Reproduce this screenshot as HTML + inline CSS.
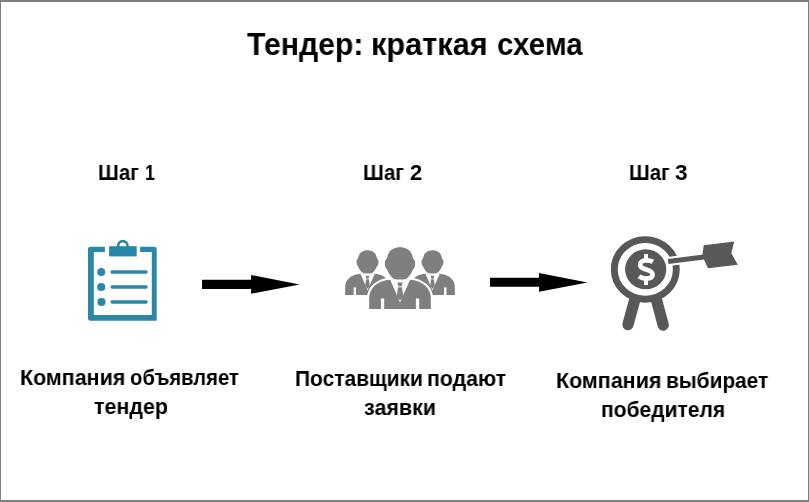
<!DOCTYPE html>
<html><head><meta charset="utf-8"><style>
html,body{margin:0;padding:0;}
body{width:809px;height:502px;overflow:hidden;background:#fff;position:relative;}
.frame{position:absolute;left:0;top:0;width:809px;height:502px;box-sizing:border-box;border-style:solid;border-color:#7f7f7f;border-width:2px 1px 2px 1px;}
.t{position:absolute;white-space:nowrap;font-family:"Liberation Sans",sans-serif;font-weight:bold;color:#000;transform-origin:0 0;will-change:transform;}
</style></head><body>
<svg width="809" height="502" viewBox="0 0 809 502" style="position:absolute;left:0;top:0">
<!-- clipboard -->
<g fill="#2a87a8">
<path fill-rule="evenodd" d="M90.5,246.8 H154.2 Q156.7,246.8 156.7,249.3 V320.8 H90.5 Q88,320.8 88,318.3 V249.3 Q88,246.8 90.5,246.8 Z M93.8,252 V315 H151.8 V252 Z"/>
<rect x="104.9" y="245" width="35.2" height="7.5" fill="#fff"/>
<rect x="109.1" y="246.2" width="27.6" height="10.2"/>
<path d="M118.15,247 V245.8 A4.7,4.7 0 0 1 127.55,245.8 V247" fill="none" stroke="#2a87a8" stroke-width="2.6"/>
<circle cx="101.2" cy="272" r="4"/>
<circle cx="101.2" cy="287" r="4.1"/>
<circle cx="101.5" cy="302" r="4.1"/>
<g stroke="#2a87a8" stroke-width="3.6" stroke-linecap="round">
<line x1="112.2" y1="272" x2="146" y2="272"/>
<line x1="112.2" y1="287" x2="146" y2="287"/>
<line x1="112.2" y1="302" x2="146" y2="302"/>
</g>
</g>
<!-- people -->

<g fill="#7f7f7f">
<g transform="translate(367.5,250.2) scale(0.725)">
<path d="M0,0 C4,0 8.5,1.5 10.8,5 C12,7 12.6,9.5 13.2,11.5 C14.8,12.5 15.2,14.5 15.1,17 C15,19.5 14.2,21.2 13,22 C11.5,26 9,30 6,31.5 C4,32.7 2,33 0,33 C-2,33 -4,32.7 -6,31.5 C-9,30 -11.5,26 -13,22 C-14.2,21.2 -15,19.5 -15.1,17 C-15.2,14.5 -14.8,12.5 -13.2,11.5 C-12.6,9.5 -12,7 -10.8,5 C-8.5,1.5 -4,0 0,0 Z"/>
<path d="M-30.8,61.7 L-30.8,50.5 C-30.8,41 -22,33.2 -9.9,32.6 L9.9,32.6 C22,33.2 30.8,41 30.8,50.5 L30.8,61.7 Z"/>
<path d="M-9.9,32.2 L0,55.2 L10.2,32.2 Z" fill="#fff"/>
<path d="M-2.6,35.3 L2.6,35.3 L1.7,39 L-1.7,39 Z M-2,40 L2,40 L3.2,49.5 L0,53.2 L-3.2,49.5 Z"/>
<rect x="-19.1" y="51.3" width="3.3" height="11" fill="#fff"/>
<rect x="15.9" y="51.3" width="3.3" height="11" fill="#fff"/>
</g>
<g transform="translate(432.5,250.2) scale(0.725)">
<path d="M0,0 C4,0 8.5,1.5 10.8,5 C12,7 12.6,9.5 13.2,11.5 C14.8,12.5 15.2,14.5 15.1,17 C15,19.5 14.2,21.2 13,22 C11.5,26 9,30 6,31.5 C4,32.7 2,33 0,33 C-2,33 -4,32.7 -6,31.5 C-9,30 -11.5,26 -13,22 C-14.2,21.2 -15,19.5 -15.1,17 C-15.2,14.5 -14.8,12.5 -13.2,11.5 C-12.6,9.5 -12,7 -10.8,5 C-8.5,1.5 -4,0 0,0 Z"/>
<path d="M-30.8,61.7 L-30.8,50.5 C-30.8,41 -22,33.2 -9.9,32.6 L9.9,32.6 C22,33.2 30.8,41 30.8,50.5 L30.8,61.7 Z"/>
<path d="M-9.9,32.2 L0,55.2 L10.2,32.2 Z" fill="#fff"/>
<path d="M-2.6,35.3 L2.6,35.3 L1.7,39 L-1.7,39 Z M-2,40 L2,40 L3.2,49.5 L0,53.2 L-3.2,49.5 Z"/>
<rect x="-19.1" y="51.3" width="3.3" height="11" fill="#fff"/>
<rect x="15.9" y="51.3" width="3.3" height="11" fill="#fff"/>
</g>
<path d="M-30.8,61.7 L-30.8,50.5 C-30.8,41 -22,33.2 -9.9,32.6 L9.9,32.6 C22,33.2 30.8,41 30.8,50.5 L30.8,61.7 Z" transform="translate(400,247.2)" fill="#fff" stroke="#fff" stroke-width="4.2"/>
<g transform="translate(400,247.2)">
<path d="M0,0 C4,0 8.5,1.5 10.8,5 C12,7 12.6,9.5 13.2,11.5 C14.8,12.5 15.2,14.5 15.1,17 C15,19.5 14.2,21.2 13,22 C11.5,26 9,30 6,31.5 C4,32.7 2,33 0,33 C-2,33 -4,32.7 -6,31.5 C-9,30 -11.5,26 -13,22 C-14.2,21.2 -15,19.5 -15.1,17 C-15.2,14.5 -14.8,12.5 -13.2,11.5 C-12.6,9.5 -12,7 -10.8,5 C-8.5,1.5 -4,0 0,0 Z"/>
<path d="M-30.8,61.7 L-30.8,50.5 C-30.8,41 -22,33.2 -9.9,32.6 L9.9,32.6 C22,33.2 30.8,41 30.8,50.5 L30.8,61.7 Z"/>
<path d="M-9.9,32.2 L0,55.2 L10.2,32.2 Z" fill="#fff"/>
<path d="M-2.6,35.3 L2.6,35.3 L1.7,39 L-1.7,39 Z M-2,40 L2,40 L3.2,49.5 L0,53.2 L-3.2,49.5 Z"/>
<rect x="-19.1" y="51.3" width="3.3" height="11" fill="#fff"/>
<rect x="15.9" y="51.3" width="3.3" height="11" fill="#fff"/>
</g>
</g>
<!-- target -->
<g fill="#585858">
<g stroke="#585858" stroke-width="11.3" stroke-linecap="round">
<line x1="637.4" y1="290" x2="628" y2="324.6"/>
<line x1="653.8" y1="290" x2="663.2" y2="325"/>
</g>
<ellipse cx="645.3" cy="269.4" rx="28" ry="26.6" fill="#fff"/>
<ellipse cx="645.3" cy="269.4" rx="31" ry="29.8" fill="none" stroke="#585858" stroke-width="6.9"/>
<ellipse cx="645.7" cy="269.3" rx="20.6" ry="20"/>
<path d="M653,261.8 C651,260.6 648.5,260.3 646,260.3 C642.3,260.3 640.1,262.2 640.1,264.8 C640.1,267.8 643,268.6 646,269.4 C649.5,270.3 652.6,271.5 652.6,274.6 C652.6,277.3 649.8,278.6 646.2,278.6 C643.4,278.6 641,277.8 639,276.4" fill="none" stroke="#fff" stroke-width="4.7"/>
<rect x="644" y="254.1" width="4" height="5" fill="#fff"/>
<rect x="644" y="280" width="4" height="5" fill="#fff"/>
<line x1="668.2" y1="261.5" x2="690" y2="258.8" stroke="#fff" stroke-width="9"/>
<line x1="668.2" y1="261.6" x2="704" y2="257.1" stroke="#585858" stroke-width="5"/>
<path d="M703.7,245.3 L734.2,241.4 L731.3,253.2 L737.8,264.7 L708,268.3 L702.3,256 Z"/>
</g>
<!-- arrows -->
<path d="M202.05,279.65 H251.1 V275.05 L299.7,284.4 L251.1,293.8 V289.0 H202.05 Z" fill="#000"/>
<path d="M490.05,277.7 H539.05 V273.0 L587.5,282.4 L539.05,291.85 V286.8 H490.05 Z" fill="#000"/>
</svg>
<div class="t" style="left:247.05px;top:29.04px;font-size:31.5px;line-height:31.5px;transform:scaleX(0.9584)">Тендер:</div>
<div class="t" style="left:371.05px;top:29.04px;font-size:31.5px;line-height:31.5px;transform:scaleX(0.9750)">краткая</div>
<div class="t" style="left:496.56px;top:29.04px;font-size:31.5px;line-height:31.5px;transform:scaleX(0.9385)">схема</div>
<div class="t" style="left:97.75px;top:161.75px;font-size:21.8px;line-height:21.8px;transform:scaleX(0.9476)">Шаг</div>
<div class="t" style="left:145.19px;top:161.75px;font-size:21.8px;line-height:21.8px;transform:scaleX(0.8091)">1</div>
<div class="t" style="left:363.25px;top:161.75px;font-size:21.8px;line-height:21.8px;transform:scaleX(0.9500)">Шаг</div>
<div class="t" style="left:409.89px;top:161.75px;font-size:21.8px;line-height:21.8px;transform:scaleX(1.0100)">2</div>
<div class="t" style="left:629.16px;top:161.75px;font-size:21.8px;line-height:21.8px;transform:scaleX(0.9429)">Шаг</div>
<div class="t" style="left:675.46px;top:161.75px;font-size:21.8px;line-height:21.8px;transform:scaleX(1.0400)">3</div>
<div class="t" style="left:19.53px;top:366.88px;font-size:22px;line-height:22px;transform:scaleX(0.9745)">Компания</div>
<div class="t" style="left:130.48px;top:366.88px;font-size:22px;line-height:22px;transform:scaleX(0.9197)">объявляет</div>
<div class="t" style="left:94.13px;top:396.08px;font-size:22px;line-height:22px;transform:scaleX(0.9743)">тендер</div>
<div class="t" style="left:294.55px;top:367.98px;font-size:22px;line-height:22px;transform:scaleX(0.9523)">Поставщики</div>
<div class="t" style="left:427.47px;top:367.98px;font-size:22px;line-height:22px;transform:scaleX(0.9671)">подают</div>
<div class="t" style="left:363.62px;top:397.18px;font-size:22px;line-height:22px;transform:scaleX(0.9761)">заявки</div>
<div class="t" style="left:555.52px;top:369.88px;font-size:22px;line-height:22px;transform:scaleX(0.9755)">Компания</div>
<div class="t" style="left:666.40px;top:369.88px;font-size:22px;line-height:22px;transform:scaleX(0.9486)">выбирает</div>
<div class="t" style="left:601.49px;top:398.88px;font-size:22px;line-height:22px;transform:scaleX(0.9563)">победителя</div>
<div class="frame"></div>
</body></html>
